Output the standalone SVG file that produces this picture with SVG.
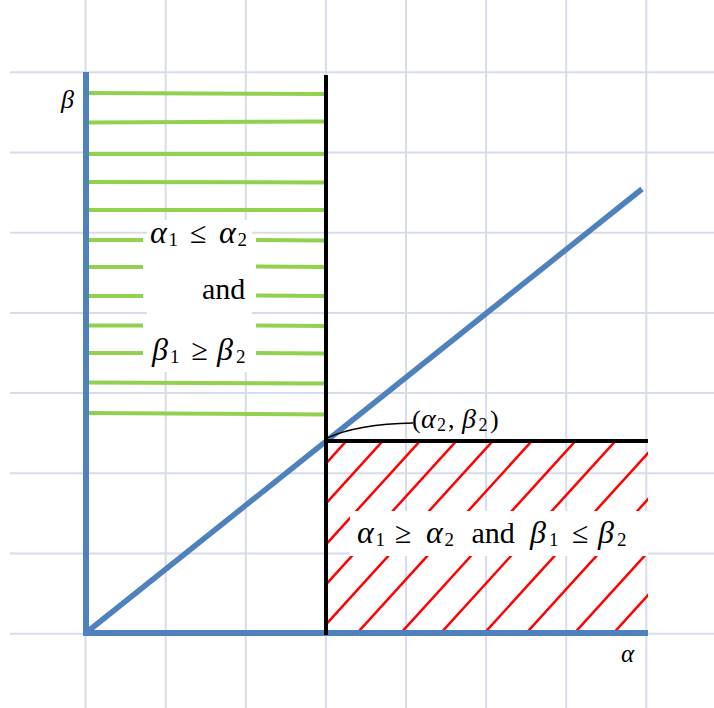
<svg xmlns="http://www.w3.org/2000/svg" width="714" height="708" viewBox="0 0 714 708">
<defs>
<style>
.grid line{stroke:#d6dce9;stroke-width:2}
.g line{stroke:#92d050;stroke-width:4}
.h line{stroke:#ff0000;stroke-width:2.5}
.blue{stroke:#4f81bd;stroke-width:6}
.blk{stroke:#000;stroke-width:4}
text{font-family:"Liberation Serif","Times New Roman",serif;font-size:30px;fill:#000}
.i{font-style:italic}
.m{font-size:32px}
.s{font-size:19px}
</style>
<clipPath id="hc"><rect x="327" y="442" width="321" height="190"/></clipPath>
</defs>
<rect width="714" height="708" fill="#fff"/>
<g id="grid" class="grid">
<line x1="85.5" y1="0" x2="85.5" y2="708"/>
<line x1="165.7" y1="0" x2="165.7" y2="708"/>
<line x1="245.8" y1="0" x2="245.8" y2="708"/>
<line x1="325.9" y1="0" x2="325.9" y2="708"/>
<line x1="406" y1="0" x2="406" y2="708"/>
<line x1="486.1" y1="0" x2="486.1" y2="708"/>
<line x1="566.2" y1="0" x2="566.2" y2="708"/>
<line x1="646.3" y1="0" x2="646.3" y2="708"/>
<line x1="10" y1="72.3" x2="714" y2="72.3"/>
<line x1="10" y1="152.5" x2="714" y2="152.5"/>
<line x1="10" y1="232.7" x2="714" y2="232.7"/>
<line x1="10" y1="312.9" x2="714" y2="312.9"/>
<line x1="10" y1="393.1" x2="714" y2="393.1"/>
<line x1="10" y1="473.3" x2="714" y2="473.3"/>
<line x1="10" y1="553.5" x2="714" y2="553.5"/>
<line x1="10" y1="633.7" x2="714" y2="633.7"/>
</g>
<g id="green-region" class="g">
<line x1="88" y1="93" x2="326" y2="94"/>
<line x1="88" y1="122.5" x2="326" y2="121.5"/>
<line x1="88" y1="154" x2="326" y2="154"/>
<line x1="88" y1="182" x2="326" y2="182.5"/>
<line x1="88" y1="210" x2="326" y2="210"/>
<line x1="88" y1="240" x2="143" y2="240"/><line x1="256" y1="240" x2="326" y2="240.5"/>
<line x1="88" y1="267" x2="143" y2="267"/><line x1="256" y1="266.5" x2="326" y2="267"/>
<line x1="88" y1="296" x2="143" y2="296"/><line x1="256" y1="295.5" x2="326" y2="296"/>
<line x1="88" y1="325.5" x2="143" y2="325.5"/><line x1="256" y1="325.5" x2="326" y2="326"/>
<line x1="88" y1="353" x2="143" y2="353"/><line x1="256" y1="353" x2="326" y2="353.5"/>
<line x1="88" y1="382.5" x2="326" y2="383.5"/>
<line x1="88" y1="413" x2="326" y2="414.5"/>
</g>
<g id="red-region" class="h" clip-path="url(#hc)">
<line x1="300" y1="492" x2="680" y2="74"/>
<line x1="300" y1="532" x2="680" y2="114"/>
<line x1="300" y1="573" x2="680" y2="155"/>
<line x1="300" y1="613" x2="680" y2="195"/>
<line x1="300" y1="653" x2="680" y2="235"/>
<line x1="300" y1="696" x2="680" y2="278"/>
<line x1="300" y1="744" x2="680" y2="326"/>
<line x1="300" y1="788" x2="680" y2="370"/>
<line x1="300" y1="836" x2="680" y2="418"/>
<line x1="300" y1="882" x2="680" y2="464"/>
<line x1="300" y1="935" x2="680" y2="517"/>
<line x1="300" y1="978" x2="680" y2="560"/>
</g>
<g id="label-boxes" fill="#fff">
<rect x="147" y="220" width="105" height="152"/>
<rect x="350" y="511" width="298" height="45"/>
</g>
<g id="axes">
<line class="blue" x1="86" y1="72" x2="86" y2="636"/>
<line class="blue" x1="83" y1="633" x2="648" y2="633"/>
<line class="blue" x1="87" y1="632" x2="642" y2="189" style="stroke-width:5.5"/>
<line class="blk" x1="326" y1="75" x2="326" y2="635"/>
<line class="blk" x1="326" y1="441" x2="648" y2="441"/>
</g>
<g id="connectors">
<path d="M327,438 Q358,424 413,423" fill="none" stroke="#000" stroke-width="1.3"/>
</g>
<g id="labels">
<text id="beta-axis" class="i" x="61" y="108" style="font-size:26px">β</text>
<text id="alpha-axis" class="i" x="621" y="662" style="font-size:25px">α</text>
<text id="point" style="font-size:26px" y="428"><tspan x="412">(</tspan><tspan class="i" x="421" style="font-size:28px">α</tspan><tspan x="437" dy="3" style="font-size:18px">2</tspan><tspan x="448" dy="-3">,</tspan><tspan class="i" x="462" style="font-size:28px">β</tspan><tspan x="478.5" dy="3" style="font-size:18px">2</tspan><tspan x="490" dy="-3">)</tspan></text>
<g id="upper-label">
<text y="243"><tspan class="i m" x="150">α</tspan><tspan class="s" x="168.5" dy="3">1</tspan><tspan x="190" dy="-3">≤</tspan><tspan class="i m" x="219">α</tspan><tspan class="s" x="237.5" dy="3">2</tspan></text>
<text x="202" y="299">and</text>
<text y="360"><tspan class="i m" x="152">β</tspan><tspan class="s" x="170" dy="3">1</tspan><tspan x="191.5" dy="-3">≥</tspan><tspan class="i m" x="217">β</tspan><tspan class="s" x="236" dy="3">2</tspan></text>
</g>
<text id="lower-label" y="543"><tspan class="i m" x="357">α</tspan><tspan class="s" x="375.5" dy="3">1</tspan><tspan x="395" dy="-3">≥</tspan><tspan class="i m" x="426">α</tspan><tspan class="s" x="444.5" dy="3">2</tspan><tspan x="471.5" dy="-3">and</tspan><tspan class="i m" x="530">β</tspan><tspan class="s" x="549" dy="3">1</tspan><tspan x="572" dy="-3">≤</tspan><tspan class="i m" x="598">β</tspan><tspan class="s" x="617" dy="3">2</tspan></text>
</g>
</svg>
